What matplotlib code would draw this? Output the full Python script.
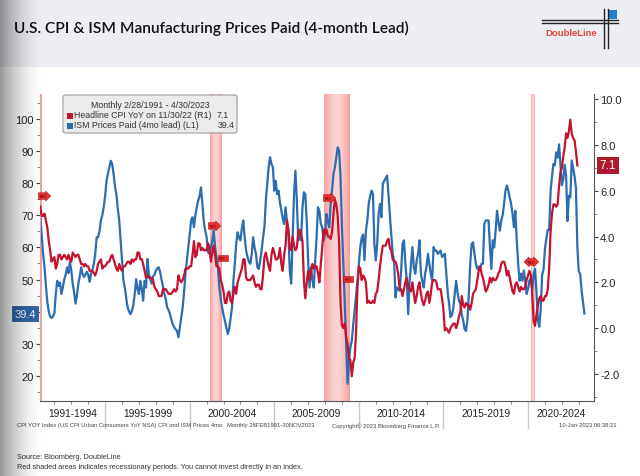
import numpy as np
import matplotlib
matplotlib.use("Agg")
import matplotlib.pyplot as plt
import matplotlib.transforms as mtransforms
from matplotlib.patches import Rectangle, FancyBboxPatch
from matplotlib.lines import Line2D

# ---- data (monthly) ----
# Headline CPI YoY %, Feb 1991 .. Nov 2022 (right axis)
cpi_yoy = [
    5.3, 4.9, 4.9, 5.0, 4.7, 4.4, 3.8, 3.4, 2.9, 3.0, 3.1,
    2.6, 2.8, 3.2, 3.2, 3.0, 3.1, 3.2, 3.1, 3.0, 3.2, 3.0, 2.9,
    3.3, 3.2, 3.1, 3.2, 3.2, 3.0, 2.8, 2.8, 2.7, 2.8, 2.7, 2.7,
    2.5, 2.5, 2.5, 2.4, 2.3, 2.5, 2.8, 2.9, 3.0, 2.6, 2.7, 2.7,
    2.8, 2.9, 2.9, 3.1, 3.2, 3.0, 2.8, 2.6, 2.5, 2.8, 2.6, 2.5,
    2.7, 2.7, 2.8, 2.9, 2.9, 2.8, 3.0, 2.9, 3.0, 3.0, 3.3, 3.3,
    3.0, 3.0, 2.8, 2.5, 2.2, 2.3, 2.2, 2.2, 2.2, 2.1, 1.8, 1.7,
    1.6, 1.4, 1.4, 1.4, 1.7, 1.7, 1.7, 1.6, 1.5, 1.5, 1.5, 1.6,
    1.7, 1.6, 1.7, 2.3, 2.1, 2.0, 2.1, 2.3, 2.6, 2.6, 2.6, 2.7,
    2.7, 3.2, 3.8, 3.1, 3.2, 3.7, 3.7, 3.4, 3.5, 3.4, 3.4, 3.4,
    3.7, 3.5, 2.9, 3.3, 3.6, 3.2, 2.7, 2.7, 2.6, 2.1, 1.9, 1.6,
    1.1, 1.1, 1.5, 1.6, 1.2, 1.1, 1.5, 1.8, 1.5, 2.0, 2.2, 2.4,
    2.6, 3.0, 3.0, 2.2, 2.1, 2.1, 2.1, 2.2, 2.3, 2.0, 1.8, 1.9,
    1.9, 1.7, 1.7, 2.3, 3.1, 3.3, 3.0, 2.7, 2.5, 3.2, 3.5, 3.3,
    3.0, 3.0, 3.1, 3.5, 2.8, 2.5, 3.2, 3.6, 4.7, 4.3, 3.5, 3.4,
    4.0, 3.6, 3.4, 3.5, 4.2, 4.3, 4.1, 3.8, 2.1, 1.3, 2.0, 2.5,
    2.1, 2.4, 2.8, 2.6, 2.7, 2.7, 2.4, 2.0, 2.8, 3.5, 4.3, 4.1,
    4.3, 4.0, 4.0, 3.9, 4.2, 5.0, 5.6, 5.4, 4.9, 3.7, 1.1, 0.1,
    0.0, 0.2, -0.4, -0.7, -1.3, -1.4, -2.1, -1.5, -1.3, -0.2, 1.8, 2.7,
    2.6, 2.1, 2.3, 2.2, 2.0, 1.1, 1.2, 1.1, 1.1, 1.2, 1.1, 1.5,
    1.6, 2.1, 2.7, 3.2, 3.6, 3.6, 3.6, 3.8, 3.9, 3.5, 3.4, 3.0,
    2.9, 2.9, 2.7, 2.3, 1.7, 1.7, 1.4, 1.7, 2.0, 2.2, 1.8, 1.7,
    1.6, 2.0, 1.5, 1.1, 1.4, 1.8, 2.0, 1.5, 1.2, 1.0, 1.2, 1.5,
    1.6, 1.1, 1.5, 2.0, 2.1, 2.1, 2.0, 1.7, 1.7, 1.7, 1.3, 0.8,
    -0.1, 0.0, -0.1, -0.2, 0.0, 0.1, 0.2, 0.2, 0.0, 0.2, 0.5, 0.7,
    1.4, 1.0, 0.9, 1.1, 1.0, 1.0, 0.8, 1.1, 1.5, 1.6, 1.7, 2.1,
    2.5, 2.7, 2.4, 2.2, 1.9, 1.6, 1.7, 1.9, 2.2, 2.0, 2.2, 2.1,
    2.1, 2.2, 2.4, 2.5, 2.8, 2.9, 2.9, 2.7, 2.3, 2.5, 2.2, 1.9,
    1.6, 1.5, 1.9, 2.0, 1.8, 1.6, 1.8, 1.7, 1.7, 1.8, 2.1, 2.3,
    2.5, 2.3, 1.5, 0.3, 0.1, 0.6, 1.0, 1.3, 1.4, 1.2, 1.2, 1.4,
    1.4, 1.7, 2.6, 4.2, 5.0, 5.4, 5.4, 5.3, 5.4, 6.2, 6.8, 7.0,
    7.5, 7.9, 8.5, 8.3, 8.6, 9.1, 8.5, 8.3, 8.2, 7.7, 7.1,
]

# ISM Manufacturing Prices Paid, shifted 4 months ahead, Feb 1991 .. Apr 2023 (left axis)
ism_prices = [
    69.4, 64.0, 58.0, 54.0, 48.0, 43.0, 40.0, 38.5, 38.0, 38.5, 39.5,
    45.5, 49.6, 48.0, 49.0, 45.5, 47.5, 50.0, 51.5, 53.8, 52.0, 55.4, 52.8,
    48.7, 46.0, 42.5, 45.0, 48.7, 51.0, 53.8, 51.8, 50.8, 51.5, 52.4, 51.5,
    49.3, 51.8, 53.0, 54.9, 58.0, 63.2, 63.2, 65.0, 68.4, 70.0, 72.5, 76.0,
    80.8, 83.0, 85.0, 87.0, 86.0, 82.9, 79.0, 76.6, 72.0, 68.4, 62.0, 55.9,
    49.6, 47.5, 44.0, 41.3, 40.0, 39.2, 40.2, 42.0, 45.5, 50.1, 47.0, 45.5,
    49.6, 47.0, 43.4, 49.6, 47.5, 56.4, 51.8, 50.0, 48.7, 51.0, 51.5, 52.8,
    53.5, 53.8, 52.4, 50.0, 48.0, 45.5, 44.0, 41.3, 40.5, 39.2, 37.5, 36.0,
    35.1, 34.5, 34.0, 32.0, 35.1, 38.0, 41.3, 46.0, 51.8, 56.0, 60.1, 64.0,
    68.4, 69.4, 66.3, 70.0, 72.5, 74.6, 76.0, 78.7, 73.6, 68.0, 65.2, 63.2,
    58.5, 58.0, 60.0, 62.0, 65.2, 60.1, 57.0, 53.8, 47.5, 44.0, 41.3, 39.0,
    37.1, 35.0, 33.0, 34.6, 38.0, 41.3, 49.6, 55.0, 61.1, 64.7, 63.0, 62.2,
    66.0, 68.4, 63.0, 59.0, 57.0, 55.5, 54.9, 58.0, 63.2, 60.0, 58.0, 53.8,
    53.3, 56.0, 59.0, 63.0, 66.3, 74.6, 80.0, 85.0, 88.1, 86.0, 85.0, 77.7,
    80.8, 76.6, 77.7, 74.0, 71.4, 69.0, 67.3, 72.5, 68.0, 64.2, 52.8, 48.7,
    62.2, 76.6, 83.9, 74.6, 62.2, 65.2, 62.2, 72.5, 77.2, 76.6, 68.4, 55.9,
    47.5, 53.8, 50.0, 47.5, 55.9, 63.2, 72.5, 71.4, 67.3, 66.3, 62.2, 64.2,
    70.4, 68.0, 66.3, 73.6, 78.0, 82.9, 85.0, 88.1, 91.2, 90.1, 81.8, 66.3,
    55.0, 42.0, 30.0, 17.5, 24.8, 28.9, 31.0, 36.0, 40.2, 45.0, 49.6, 55.0,
    60.1, 63.0, 64.0, 56.0, 65.2, 68.4, 73.6, 76.0, 77.7, 76.6, 61.0, 55.9,
    61.1, 70.4, 73.6, 69.4, 79.8, 80.8, 81.5, 82.4, 76.6, 70.0, 64.2, 58.0,
    55.9, 44.4, 47.5, 47.0, 46.5, 53.0, 61.1, 62.2, 55.0, 49.6, 39.2, 49.6,
    55.0, 60.1, 53.8, 51.8, 55.9, 58.0, 62.2, 51.8, 49.5, 47.5, 51.8, 54.0,
    58.0, 55.0, 51.8, 49.6, 60.1, 59.0, 59.0, 58.0, 58.5, 59.0, 57.0, 57.5,
    58.0, 51.8, 46.0, 42.5, 38.3, 38.9, 41.0, 45.5, 49.6, 46.0, 43.4, 42.5,
    39.0, 37.3, 34.5, 34.0, 37.3, 45.5, 55.0, 61.1, 61.6, 58.0, 54.9, 53.3,
    54.0, 53.3, 54.9, 54.9, 67.3, 68.4, 68.4, 68.4, 60.1, 53.3, 62.2, 60.0,
    65.2, 71.4, 68.0, 65.2, 68.4, 70.0, 73.6, 77.7, 79.3, 77.7, 75.5, 73.6,
    70.4, 66.3, 71.4, 62.2, 55.0, 49.6, 51.8, 49.6, 52.8, 49.6, 45.5, 47.0,
    49.7, 50.4, 46.7, 51.7, 53.3, 45.9, 37.4, 35.3, 40.8, 51.3, 53.2, 59.5,
    62.8, 65.5, 65.4, 77.6, 82.1, 86.0, 85.6, 89.6, 88.0, 92.1, 85.7, 79.4,
    81.2, 85.7, 82.4, 68.2, 76.1, 75.6, 87.1, 84.6, 82.2, 78.5, 60.0, 52.5,
    51.7, 46.6, 43.0, 39.4,
]

# recessions (decimal years)
recessions = [(1990.55, 1991.25), (2001.2, 2001.9), (2007.95, 2009.45), (2020.15, 2020.33)]
# Bloomberg recession flags (decimal year, left-axis value, shape)
rec_flags = [(1991.35, 76.0, "rarrow"), (2001.4, 66.7, "rarrow"), (2001.95, 56.7, "square"),
             (2008.2, 75.4, "rarrow"), (2009.35, 50.2, "square"), (2020.2, 55.5, "darrow")]

period_labels = ["1991-1994", "1995-1999", "2000-2004", "2005-2009",
                 "2010-2014", "2015-2019", "2020-2024"]

RED = "#c4122f"
BLUE = "#2a6db0"
FONT = "Liberation Sans"

# months as decimal years (end of month)
t_cpi = 1991 + (2 + np.arange(len(cpi_yoy))) / 12
t_ism = 1991 + (2 + np.arange(len(ism_prices))) / 12

W, H = 640, 477
fig = plt.figure(figsize=(6.4, 4.77), dpi=100)
fig.patch.set_facecolor("white")


def fx(px):
    return px / W


def fy(py):
    return 1 - py / H


# header band
fig.add_artist(Rectangle((0, fy(68)), 1, 68 / H, transform=fig.transFigure,
                         facecolor="#eceef3", edgecolor="none", zorder=0))
fig.text(fx(14), fy(28), "U.S. CPI & ISM Manufacturing Prices Paid (4-month Lead)",
         fontsize=11.2, family="Lato", weight="semibold", color="#111111",
         va="center", ha="left", zorder=4)

# DoubleLine logo
for yy in (20.5, 24.0):
    fig.add_artist(Line2D([fx(542), fx(618)], [fy(yy), fy(yy)], color="#222", lw=1.0,
                          transform=fig.transFigure))
for xx in (603.5, 607.5):
    fig.add_artist(Line2D([fx(xx), fx(xx)], [fy(10), fy(49)], color="#222", lw=1.0,
                          transform=fig.transFigure))
fig.add_artist(Rectangle((fx(608), fy(20)), 9 / W, 9 / H, transform=fig.transFigure,
                         facecolor="#1f7fd0", edgecolor="none"))
fig.text(fx(545), fy(34), "DoubleLine", fontsize=6.8, family=FONT, weight="bold",
         color="#e6443c", va="center", ha="left")

# ---- main chart ----
ax = fig.add_axes([fx(40), fy(402), 554 / W, 307 / H])
ax2 = ax.twinx()
ax.set_zorder(1)
ax2.set_zorder(2)
ax.patch.set_visible(True)
ax2.patch.set_visible(False)

X0, X1 = 1991.15, 2023.9
YL = (12.15, 107.8)
YR = (-3.18, 10.22)

# recession shading: darker edges, lighter middle
prof = 1 - 0.55 * np.sin(np.linspace(0, np.pi, 40))
edge = np.array([0.97, 0.62, 0.62])
cols = 1 - (1 - edge)[None, :] * prof[:, None]
shade = cols[None, :, :]
for r0, r1 in recessions:
    ax.imshow(shade, extent=[r0, r1, YL[0], YL[1]], aspect="auto", zorder=0.5,
              interpolation="bilinear")

ax.plot(t_ism, ism_prices, color=BLUE, lw=1.6, zorder=2)
ax2.plot(t_cpi, cpi_yoy, color=RED, lw=1.6, zorder=2)

ax.set_xlim(X0, X1)
ax.set_ylim(*YL)
ax2.set_ylim(*YR)

for a in (ax, ax2):
    a.spines["top"].set_visible(False)
ax.spines["left"].set_color("#e7a2a2")
ax.spines["right"].set_visible(False)
ax2.spines["left"].set_visible(False)
ax2.spines["right"].set_color("#555")
ax2.spines["bottom"].set_visible(False)
ax.spines["bottom"].set_color("#555")

# left axis ticks
lticks = list(range(20, 101, 10))
ax.set_yticks(lticks)
ax.set_yticklabels(["" if v == 40 else str(v) for v in lticks])
ax.set_yticks(np.arange(15, 106, 5), minor=True)
ax.tick_params(axis="y", which="major", length=3, width=0.8, color="#444",
               labelsize=8, pad=1.5, labelcolor="#222")
ax.tick_params(axis="y", which="minor", length=2, width=0.6, color="#777")

# right axis ticks
rticks = np.arange(-2, 10.1, 2)
ax2.set_yticks(rticks)
ax2.set_yticklabels([f"{v:.1f}" for v in rticks])
ax2.set_yticks(np.arange(-3, 10.1, 1), minor=True)
ax2.tick_params(axis="y", which="major", length=3, width=0.8, color="#444",
                labelsize=8, pad=1.5, labelcolor="#222")
ax2.tick_params(axis="y", which="minor", length=2, width=0.6, color="#777")

# x axis: long separators every 5y, small ticks each year
ax.set_xticks(np.arange(1995, 2021, 5))
ax.set_xticklabels([])
ax.set_xticks(np.arange(1992, 2024, 1), minor=True)
ax.tick_params(axis="x", which="major", length=20, width=1.0, color="#c8c8c8", direction="out")
ax.tick_params(axis="x", which="minor", length=2.5, width=0.6, color="#777", direction="out")

bounds = [X0, 1995, 2000, 2005, 2010, 2015, 2020, X1]
trans = mtransforms.blended_transform_factory(ax.transData, ax.transAxes)
for i, lab in enumerate(period_labels):
    ax.text((bounds[i] + bounds[i + 1]) / 2, -0.038, lab, transform=trans, ha="center",
            va="center", fontsize=7.4, family=FONT, color="#222")

for a in (ax, ax2):
    for lab in a.get_yticklabels():
        lab.set_family(FONT)

# last-value tags
ax2.annotate("7.1", xy=(1, 7.1), xycoords=ax2.get_yaxis_transform(), xytext=(4, 0),
             textcoords="offset points", ha="left", va="center", color="white",
             fontsize=8.5, family=FONT,
             bbox=dict(boxstyle="square,pad=0.25", fc="#b01a30", ec="none"),
             annotation_clip=False)
ax.annotate("39.4", xy=(0, 39.4), xycoords=ax.get_yaxis_transform(), xytext=(-3, 0),
            textcoords="offset points", ha="right", va="center", color="white",
            fontsize=8, family=FONT,
            bbox=dict(boxstyle="square,pad=0.2", fc="#2c64a8", ec="#1d4a80", lw=0.5),
            annotation_clip=False)

# recession flags
for fx_, fy_, shape in rec_flags:
    ax.text(fx_, fy_, "REC", fontsize=2.6, color="#5a0000", ha="center", va="center",
            zorder=5, bbox=dict(boxstyle=f"{shape},pad=0.35", fc="#e8302f",
                                ec="#a01515", lw=0.4))

# legend box
LEG_FS = 6.3
fig.add_artist(FancyBboxPatch((fx(63), fy(134)), 174 / W, 38 / H,
                              boxstyle="round,pad=0,rounding_size=0.004",
                              transform=fig.transFigure, fc="#ebebeb", ec="#9c9c9c",
                              lw=0.8, zorder=6))
fig.text(fx(150), fy(105.5), "Monthly 2/28/1991 - 4/30/2023", fontsize=LEG_FS, family=FONT,
         color="#333", ha="center", va="center", zorder=7)
fig.add_artist(Rectangle((fx(67), fy(119.5)), 6 / W, 6 / H, transform=fig.transFigure,
                         fc=RED, ec="none", zorder=7))
fig.text(fx(74), fy(116), "Headline CPI YoY on 11/30/22 (R1)", fontsize=LEG_FS, family=FONT,
         color="#333", ha="left", va="center", zorder=7)
fig.text(fx(229), fy(116), "7.1", fontsize=LEG_FS, family=FONT, color="#333", ha="right",
         va="center", zorder=7)
fig.add_artist(Rectangle((fx(67), fy(129.5)), 6 / W, 6 / H, transform=fig.transFigure,
                         fc=BLUE, ec="none", zorder=7))
fig.text(fx(74), fy(126), "ISM Prices Paid (4mo lead) (L1)", fontsize=LEG_FS, family=FONT,
         color="#333", ha="left", va="center", zorder=7)
fig.text(fx(235), fy(126), "39.4", fontsize=LEG_FS, family=FONT, color="#333", ha="right",
         va="center", zorder=7)

# footers
fig.text(fx(17), fy(426), "CPI YOY Index (US CPI Urban Consumers YoY NSA) CPI and ISM Prices 4mo   "
         "Monthly 28FEB1991-30NOV2023", fontsize=4.2, family=FONT, color="#444",
         ha="left", va="center")
fig.text(fx(386), fy(426), "Copyright\u00a9 2023 Bloomberg Finance L.P.", fontsize=4.2,
         family=FONT, color="#444", ha="center", va="center")
fig.text(fx(617), fy(426), "10-Jan-2023 06:38:21", fontsize=4.2, family=FONT, color="#444",
         ha="right", va="center")
fig.text(fx(17), fy(458), "Source: Bloomberg, DoubleLine", fontsize=5.3, family=FONT,
         color="#333", ha="left", va="center")
fig.text(fx(17), fy(468), "Red shaded areas indicates recessionary periods. You cannot invest "
         "directly in an index.", fontsize=5.3, family=FONT, color="#333", ha="left", va="center")

# scanned page shadow on the left edge
gax = fig.add_axes([0, 0, 46 / W, 1], zorder=10)
gax.axis("off")
xs = np.linspace(0, 1, 46)
grad = np.zeros((1, 46, 4))
grad[..., 3] = 0.40 * (1 - xs) ** 1.8
gax.imshow(grad, aspect="auto", extent=[0, 1, 0, 1], interpolation="bilinear")

fig.savefig("out.png", dpi=100)
